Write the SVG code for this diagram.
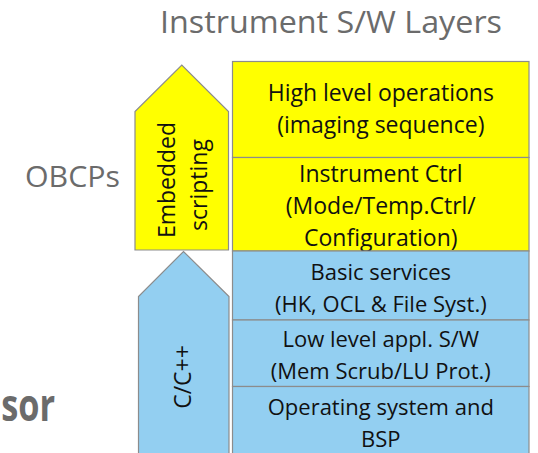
<svg xmlns="http://www.w3.org/2000/svg" width="538" height="453" viewBox="0 0 538 453">
  <style>
    .t { font-family: "Open Sans", "Noto Sans", "Liberation Sans", sans-serif; fill: #111; text-anchor: middle; }
    .box { font-size: 23px; }
    .boxb { font-size: 22px; }
    .title { font-family: "Open Sans", "Noto Sans", "Liberation Sans", sans-serif; fill: #6b6b6b; }
    .yel { fill: #ffff00; stroke: #8c8c8c; stroke-width: 1.2; }
    .blu { fill: #93cff1; stroke: #8c8c8c; stroke-width: 1.2; }
  </style>
  <rect width="538" height="453" fill="#ffffff"/>

  <!-- headings -->
  <text class="title" x="160" y="33" font-size="31" textLength="342" lengthAdjust="spacingAndGlyphs">Instrument S/W Layers</text>
  <text class="title" x="25" y="187" font-size="30" textLength="95" lengthAdjust="spacingAndGlyphs">OBCPs</text>
  <text class="title" x="55" y="421" font-size="44" font-weight="bold" text-anchor="end" transform="translate(55 0) scale(0.78 1) translate(-55 0)">sor</text>

  <!-- language arrows -->
  <g id="embedded-scripting">
    <polygon class="yel" points="135,250 135,111.5 181.8,65 228.5,111.5 228.5,250"/>
    <text class="t box" transform="translate(175 180) rotate(-90)" x="0" y="0">Embedded</text>
    <text class="t box" transform="translate(207 185) rotate(-90)" x="0" y="0">scripting</text>
  </g>
  <g id="c-cpp">
    <polygon class="blu" points="138.5,460 138.5,296.5 183.5,251.5 229,296.5 229,460"/>
    <text class="t box" transform="translate(191 377) rotate(-90)" x="0" y="0">C/C++</text>
  </g>

  <!-- software layer stack -->
  <g id="high-level-operations">
    <rect class="yel" x="232.5" y="61.5" width="296.5" height="96"/>
    <text class="t box" x="380.8" y="101">High level operations</text>
    <text class="t box" x="380.8" y="132.5">(imaging sequence)</text>
  </g>
  <g id="instrument-ctrl">
    <rect class="yel" x="232.5" y="157.5" width="296.5" height="93.5"/>
    <text class="t box" x="380.8" y="182">Instrument Ctrl</text>
    <text class="t box" x="380.8" y="214">(Mode/Temp.Ctrl/</text>
    <text class="t box" x="380.8" y="245.5">Configuration)</text>
  </g>
  <g id="basic-services">
    <rect class="blu" x="232.5" y="251" width="296.5" height="69"/>
    <text class="t boxb" x="380.8" y="280">Basic services</text>
    <text class="t boxb" x="380.8" y="312">(HK, OCL &amp; File Syst.)</text>
  </g>
  <g id="low-level-appl">
    <rect class="blu" x="232.5" y="320" width="296.5" height="66.5"/>
    <text class="t boxb" x="380.8" y="347">Low level appl. S/W</text>
    <text class="t boxb" x="380.8" y="379">(Mem Scrub/LU Prot.)</text>
  </g>
  <g id="operating-system">
    <rect class="blu" x="232.5" y="386.5" width="296.5" height="80"/>
    <text class="t boxb" x="380.8" y="415">Operating system and</text>
    <text class="t boxb" x="380.8" y="447">BSP</text>
  </g>

  <g id="connectors"/>
</svg>
